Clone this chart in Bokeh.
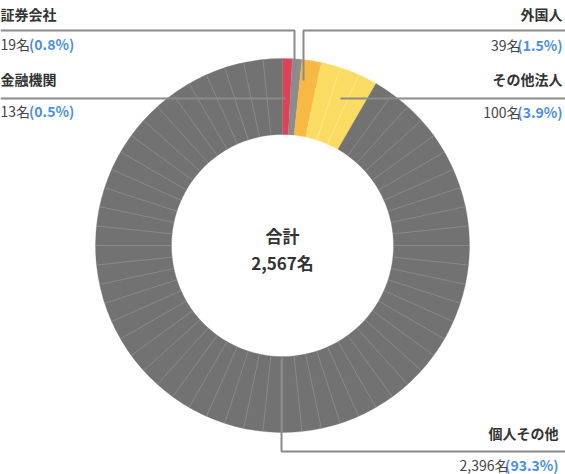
import math
from bokeh.plotting import figure
from bokeh.models import Range1d
from bokeh.core.properties import value
from bokeh.embed import file_html
from bokeh.resources import INLINE

# ---- data ----
categories = ["金融機関", "証券会社", "外国人", "その他法人", "個人その他"]
counts = [13, 19, 39, 100, 2396]
percents = ["0.5%", "0.8%", "1.5%", "3.9%", "93.3%"]
total_title = "合計"
unit = "名"

# ---- style ----
colors = ["#dc4356", "#8c8c8c", "#f8b944", "#fadc63", "#727272"]
seam_colors = ["#e87a88", "#a8a8a8", "#fbd08a", "#fdeeb0", "#999999"]
FONT = value("Noto Sans CJK JP")
TXT = "#333333"
VAL = "#444444"
BLUE = "#4a8fdf"
LEAD = "#8a8a8a"
UNITS = 60  # the ring is drawn as 60 equal pieces; small shares are rounded up

W, H = 565, 474
def Y(yref):
    return H - yref

p = figure(width=W, height=H, output_backend="svg", toolbar_location=None,
           x_range=Range1d(0, W), y_range=Range1d(0, H),
           min_border=0, outline_line_color=None)
p.axis.visible = False
p.grid.visible = False
p.background_fill_color = "white"
p.border_fill_color = "white"

CX, CY = 282, Y(245)
R_OUT, R_IN = 187, 111

total = sum(counts)
# pieces shown per category (rounded up, the largest takes the remainder)
big = counts.index(max(counts))
pieces = []
for i, c in enumerate(counts):
    u = c / total * UNITS
    pieces.append(0.5 if u <= 0.5 else math.ceil(u))
pieces[big] = UNITS - (sum(pieces) - pieces[big])

starts, ends = [], []
cum = 0
for u in pieces:
    starts.append(math.pi / 2 - 2 * math.pi * cum / UNITS)
    cum += u
    ends.append(math.pi / 2 - 2 * math.pi * cum / UNITS)

p.annular_wedge(x=CX, y=CY, inner_radius=R_IN, outer_radius=R_OUT,
                start_angle=starts, end_angle=ends, direction="clock",
                fill_color=colors, line_color=colors, line_width=0.3)

# seams between whole pieces inside each slice
sx0, sy0, sx1, sy1, sc = [], [], [], [], []
for u, a0, scol in zip(pieces, starts, seam_colors):
    for k in range(1, int(math.ceil(u))):
        a = a0 - k * 2 * math.pi / UNITS
        sx0.append(CX + R_IN * math.cos(a)); sy0.append(CY + R_IN * math.sin(a))
        sx1.append(CX + R_OUT * math.cos(a)); sy1.append(CY + R_OUT * math.sin(a))
        sc.append(scol)
p.segment(x0=sx0, y0=sy0, x1=sx1, y1=sy1, line_color=sc, line_width=0.6)

# ---- leader lines (reference pixel layout) ----
leaders = [
    ([0, 285], [98, 98]),                 # 金融機関
    ([0, 294, 294], [30, 30, 80]),        # 証券会社
    ([565, 303, 303], [30, 30, 80]),      # 外国人
    ([565, 340], [98, 98]),               # その他法人
    ([565, 281, 281], [451, 451, 358]),   # 個人その他
]
for xs, ys in leaders:
    p.line(xs, [Y(v) for v in ys], line_color=LEAD, line_width=2)

# ---- labels ----
def w_reg(s, fs=14):
    w = 0
    for ch in s:
        if ch.isdigit():
            w += 0.52
        elif ch == ",":
            w += 0.25
        else:
            w += 1.0
    return w * fs

def w_bold(s, fs=14):
    w = 0
    for ch in s:
        if ch.isdigit():
            w += 0.57
        elif ch in "()":
            w += 0.35
        elif ch == ".":
            w += 0.28
        elif ch == "%":
            w += 0.88
        else:
            w += 1.0
    return w * fs

# (anchor x, title y, value y, align)
label_layout = [
    (0, 78, 110, "left"),
    (0, 13, 43, "left"),
    (562, 13, 44, "right"),
    (562, 78, 111, "right"),
    (558, 432, 464, "right"),
]

for cat, cnt, pct, (ax, ty, vy, al) in zip(categories, counts, percents, label_layout):
    p.text(x=[ax], y=[Y(ty)], text=[cat], text_font=FONT, text_font_size="14px",
           text_font_style="bold", text_color=TXT, text_align=al, text_baseline="middle")
    reg = f"{cnt:,}{unit}"
    bold = f"({pct})"
    if al == "left":
        p.text(x=[ax], y=[Y(vy)], text=[reg], text_font=FONT, text_font_size="14px",
               text_color=VAL, text_align="left", text_baseline="middle")
        p.text(x=[ax + w_reg(reg)], y=[Y(vy)], text=[bold], text_font=FONT,
               text_font_size="14px", text_font_style="bold", text_color=BLUE,
               text_align="left", text_baseline="middle")
    else:
        p.text(x=[ax], y=[Y(vy)], text=[bold], text_font=FONT, text_font_size="14px",
               text_font_style="bold", text_color=BLUE, text_align="right",
               text_baseline="middle")
        p.text(x=[ax - w_bold(bold)], y=[Y(vy)], text=[reg], text_font=FONT,
               text_font_size="14px", text_color=VAL, text_align="right",
               text_baseline="middle")

# center label
p.text(x=[CX], y=[Y(235)], text=[total_title], text_font=FONT, text_font_size="17px",
       text_font_style="bold", text_color=TXT, text_align="center", text_baseline="middle")
p.text(x=[CX], y=[Y(262)], text=[f"{total:,}{unit}"], text_font=FONT,
       text_font_size="17px", text_font_style="bold", text_color=TXT,
       text_align="center", text_baseline="middle")

open("out.html", "w").write(file_html(p, INLINE))
